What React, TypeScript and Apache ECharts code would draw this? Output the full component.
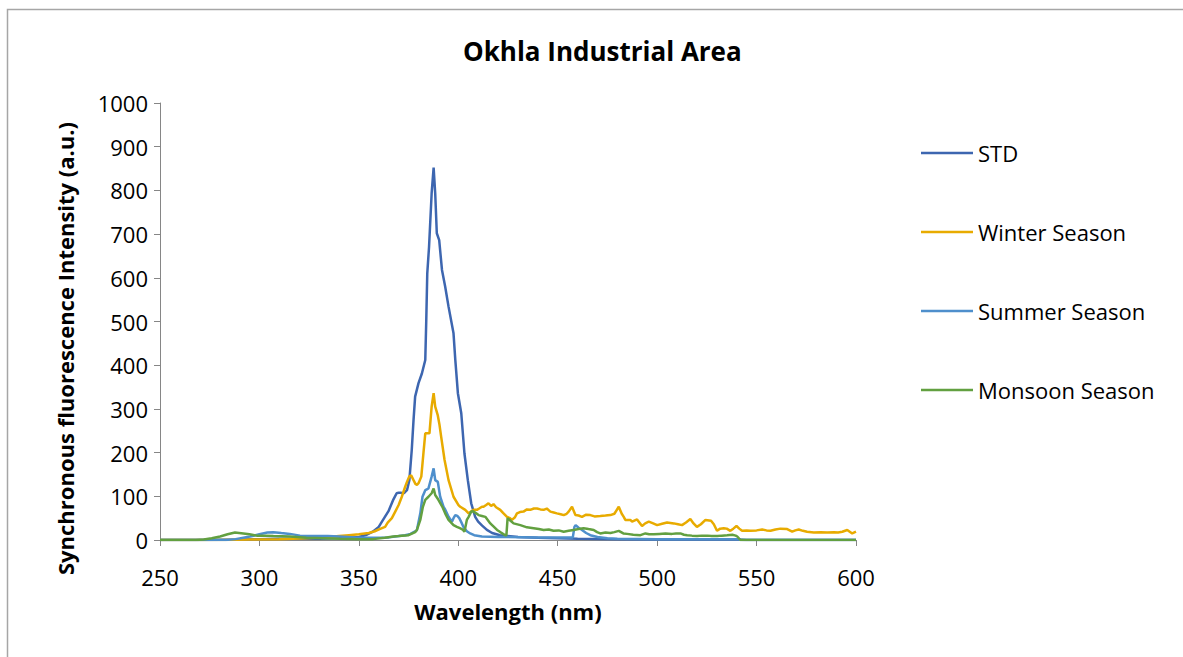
import React, { useEffect, useRef } from "react";
import * as echarts from "echarts";

const TITLE = "Okhla Industrial Area";
const X_NAME = "Wavelength (nm)";
const Y_NAME = "Synchronous fluorescence Intensity (a.u.)";
const SERIES_NAMES = ["STD", "Winter Season", "Summer Season", "Monsoon Season"];
const COLORS = ["#3D66B0", "#E8AB00", "#4E8FCC", "#62A040"];

// STD
const stdX = [250, 270, 290, 300, 310, 320, 330, 340, 345, 350, 354, 357, 360, 362, 364.9, 367.4, 369, 370, 371, 372.5, 373.3, 374.2, 375.4, 376.6, 377.5, 378.3, 380, 381.7, 383.4, 383.9, 384.4, 385.3, 386.6, 387.6, 388.4, 389.2, 390.4, 391.8, 393.4, 395.1, 397.6, 398.5, 399.8, 401.5, 403.1, 404.8, 406.5, 408.5, 410, 412, 414.4, 417, 421, 430, 440, 460, 480, 500, 540, 545, 600];
const stdY = [0, 0, 1, 2, 3, 3, 3, 4, 5, 7, 12, 19, 30, 45, 66, 93, 107, 108, 108, 107, 110, 114, 137, 206, 275, 328, 359, 381, 412, 503, 610, 671, 793, 852, 793, 702, 686, 618, 580, 534, 473, 412, 336, 290, 198, 137, 84, 53, 42, 33, 23, 16, 11, 7, 5, 3, 2, 1, 1, 0, 0];

// Winter Season
const winterX = [250, 280, 295, 310, 323.6, 335, 340, 345, 350, 355, 358, 361, 363.2, 364.5, 366.6, 368.3, 370, 371.6, 373.3, 374.2, 375.3, 376.3, 377.5, 378.5, 379.2, 380, 381.4, 382.5, 383.4, 384.5, 385.5, 386.6, 387.6, 388.4, 389.7, 390.5, 391.4, 393.1, 395.1, 397.6, 400.1, 401, 403.5, 405.2, 407.7, 409.4, 410.5, 411.9, 412.7, 414, 415.2, 416.5, 417.7, 419, 421.1, 422.5, 424.5, 426, 427, 428.5, 429.5, 431, 432.8, 434.5, 436.2, 438, 439.6, 441.3, 442.9, 444.5, 446.3, 448, 449.6, 451.5, 453, 454.5, 455.5, 457.2, 458.9, 460.5, 462.2, 464.3, 466.4, 468.5, 471.4, 474, 476.5, 478.5, 480.7, 482.2, 483.2, 484, 486.5, 487.4, 489.9, 492.4, 494, 495.8, 498, 500, 502.5, 505, 508.4, 510.5, 512.5, 514.5, 516.7, 518.3, 520, 522, 524.3, 527.1, 528.5, 530.1, 531.7, 533.5, 535, 536.8, 538.3, 539.9, 541.3, 542.7, 545, 546.9, 550, 552.8, 555, 557, 559.5, 562, 565.4, 567.9, 569.5, 571.2, 573.3, 575.4, 578.8, 582.2, 585.5, 588.9, 591, 593.1, 595.6, 598.1, 600];
const winterY = [0, 0, 1, 2, 4, 7, 9, 11, 13, 16, 20, 26, 30, 40, 50, 65, 80, 99, 122, 133, 145, 148, 137, 128, 126, 130, 145, 200, 244, 244, 244, 305, 336, 305, 285, 265, 236, 183, 137, 99, 80, 76, 69, 61, 69, 69, 72, 76, 76, 80, 84, 78, 82, 75, 69, 62, 53, 50, 46, 52, 61, 64, 65, 70, 69, 72, 72, 70, 69, 72, 65, 63, 61, 59, 57, 60, 65, 76, 57, 56, 53, 58, 57, 54, 55, 56, 57, 60, 76, 60, 53, 46, 46, 42, 47, 32, 38, 42, 38, 34, 37, 40, 38, 36, 34, 40, 48, 38, 30, 36, 46, 44, 36, 21, 26, 27, 26, 21, 26, 32, 26, 21, 22, 21, 22, 24, 22, 21, 24, 26, 25, 19, 22, 24, 21, 19, 17, 18, 17, 18, 17, 19, 23, 15, 19];

// Summer Season
const summerX = [250, 283, 288, 295.3, 300, 304, 307, 311, 315.3, 320.4, 327, 334.4, 340, 348.4, 355, 360, 365, 368.3, 373.3, 376, 378.3, 379.2, 380.9, 382, 383.4, 384.2, 385, 386.6, 387.6, 388.4, 389.7, 390.9, 392.6, 393.4, 395.1, 396.8, 397.6, 398.5, 399.5, 400.5, 401.8, 402.6, 404.3, 406, 408, 411.9, 420, 440, 457.6, 458.4, 459, 460.5, 462.2, 464.3, 466.4, 470, 475, 480, 500, 541, 542, 600];
const summerY = [0, 0, 2, 8, 13, 17, 18, 16, 14, 10, 9, 9, 8, 6, 5, 5, 6, 8, 11, 14, 20, 23, 61, 99, 114, 116, 118, 145, 164, 137, 133, 99, 76, 70, 53, 42, 50, 57, 55, 50, 38, 30, 20, 15, 11, 8, 7, 6, 6, 30, 34, 28, 23, 16, 11, 7, 4, 3, 2, 2, 0, 0];

// Monsoon Season
const monsoonX = [250, 268, 272, 276, 280.2, 284, 287.7, 291.9, 295, 298.6, 303, 307, 315.3, 323.6, 332, 340.4, 350, 357.2, 363, 367.4, 370, 375, 378.3, 379.2, 380.9, 382.2, 383.4, 385, 386.6, 387.6, 388.4, 390, 392, 393.4, 395.1, 397.6, 399.3, 400.8, 402.2, 403.1, 404.3, 405.2, 406.5, 407.5, 409, 410.2, 411.9, 413.6, 416.1, 419.5, 421.5, 423.6, 424.2, 424.8, 426.3, 427.8, 431.2, 434.5, 437.9, 440.5, 442.9, 445.5, 447.9, 450.5, 453, 455.5, 458, 460.5, 463, 465.5, 468.1, 469.8, 471.4, 474, 476.5, 478.5, 480.7, 483, 484.9, 488, 491.6, 494.1, 496, 498.3, 501, 504.2, 507.5, 509.5, 511.7, 513.5, 515.1, 517.5, 520.1, 522.5, 525.2, 527.5, 530.2, 532.5, 535.2, 537.8, 539.5, 540.3, 541.9, 600];
const monsoonY = [0, 0, 1, 4, 8, 13, 17, 15, 13, 10, 10, 9, 8, 5, 4, 3, 2, 2, 5, 8, 9, 11, 18, 23, 46, 76, 92, 99, 107, 118, 103, 92, 76, 61, 46, 34, 30, 27, 24, 19, 46, 53, 65, 66, 61, 57, 55, 53, 38, 23, 17, 11, 11, 50, 44, 38, 34, 29, 27, 25, 23, 24, 21, 22, 19, 21, 23, 25, 27, 25, 23, 18, 15, 17, 16, 18, 21, 15, 14, 12, 11, 15, 13, 13, 14, 15, 14, 15, 15, 12, 11, 10, 9, 10, 10, 9, 9, 10, 11, 12, 10, 8, 0, 0];

const SERIES_X = [stdX, winterX, summerX, monsoonX];
const SERIES_Y = [stdY, winterY, summerY, monsoonY];

const FONT = "'Open Sans', 'Noto Sans', sans-serif";

export default function App() {
  const ref = useRef<HTMLDivElement>(null);

  useEffect(() => {
    if (!ref.current) return;
    const chart = echarts.init(ref.current, undefined, { renderer: "svg" });
    const series = SERIES_NAMES.map((name, i) => ({
      name,
      type: "line",
      symbol: "none",
      data: SERIES_X[i].map((x, j) => [x, SERIES_Y[i][j]]),
      lineStyle: { width: 2.5, color: COLORS[i] },
      itemStyle: { color: COLORS[i] },
      z: 2 + i,
    }));
    chart.setOption({
      animation: false,
      backgroundColor: "#ffffff",
      textStyle: { fontFamily: FONT },
      title: {
        text: TITLE,
        left: 458,
        top: 33,
        textStyle: { fontFamily: FONT, fontWeight: "bold", fontSize: 26, color: "#000" },
      },
      graphic: [
        {
          type: "rect",
          shape: { x: 7.5, y: 9.5, width: 1400, height: 900 },
          style: { fill: "none", stroke: "#a6a6a6", lineWidth: 1.5 },
          silent: true,
        },
      ],
      legend: {
        orient: "vertical",
        left: 916,
        top: 137,
        icon: "rect",
        itemWidth: 52,
        itemHeight: 2.5,
        itemGap: 57,
        data: SERIES_NAMES,
        textStyle: { fontFamily: FONT, fontSize: 22, color: "#000", lineHeight: 22 },
      },
      grid: { left: 160, right: 327, top: 103, bottom: 117, containLabel: false },
      xAxis: {
        type: "value",
        min: 250,
        max: 600,
        interval: 50,
        name: X_NAME,
        nameLocation: "middle",
        nameGap: 60,
        nameTextStyle: { fontFamily: FONT, fontWeight: "bold", fontSize: 22, color: "#000" },
        axisLine: { show: true, lineStyle: { color: "#868686", width: 1 } },
        axisTick: { show: true, length: 6, lineStyle: { color: "#868686" } },
        axisLabel: { fontFamily: FONT, fontSize: 22, color: "#000", margin: 26 },
        splitLine: { show: false },
      },
      yAxis: {
        type: "value",
        min: 0,
        max: 1000,
        interval: 100,
        name: Y_NAME,
        nameLocation: "middle",
        nameGap: 84,
        nameRotate: 90,
        nameTextStyle: {
          fontFamily: FONT,
          fontWeight: "bold",
          fontSize: 22,
          color: "#000",
          padding: [0, 54, 0, 0],
        },
        axisLine: { show: true, lineStyle: { color: "#868686", width: 1 } },
        axisTick: { show: true, length: 6, lineStyle: { color: "#868686" } },
        axisLabel: {
          fontFamily: FONT,
          fontSize: 22,
          color: "#000",
          margin: 12,
          formatter: (v: number) => String(v),
        },
        splitLine: { show: false },
      },
      series,
    });
    return () => chart.dispose();
  }, []);

  return (
    <div
      ref={ref}
      style={{ position: "absolute", left: 0, top: 0, width: 1183, height: 657 }}
    />
  );
}
